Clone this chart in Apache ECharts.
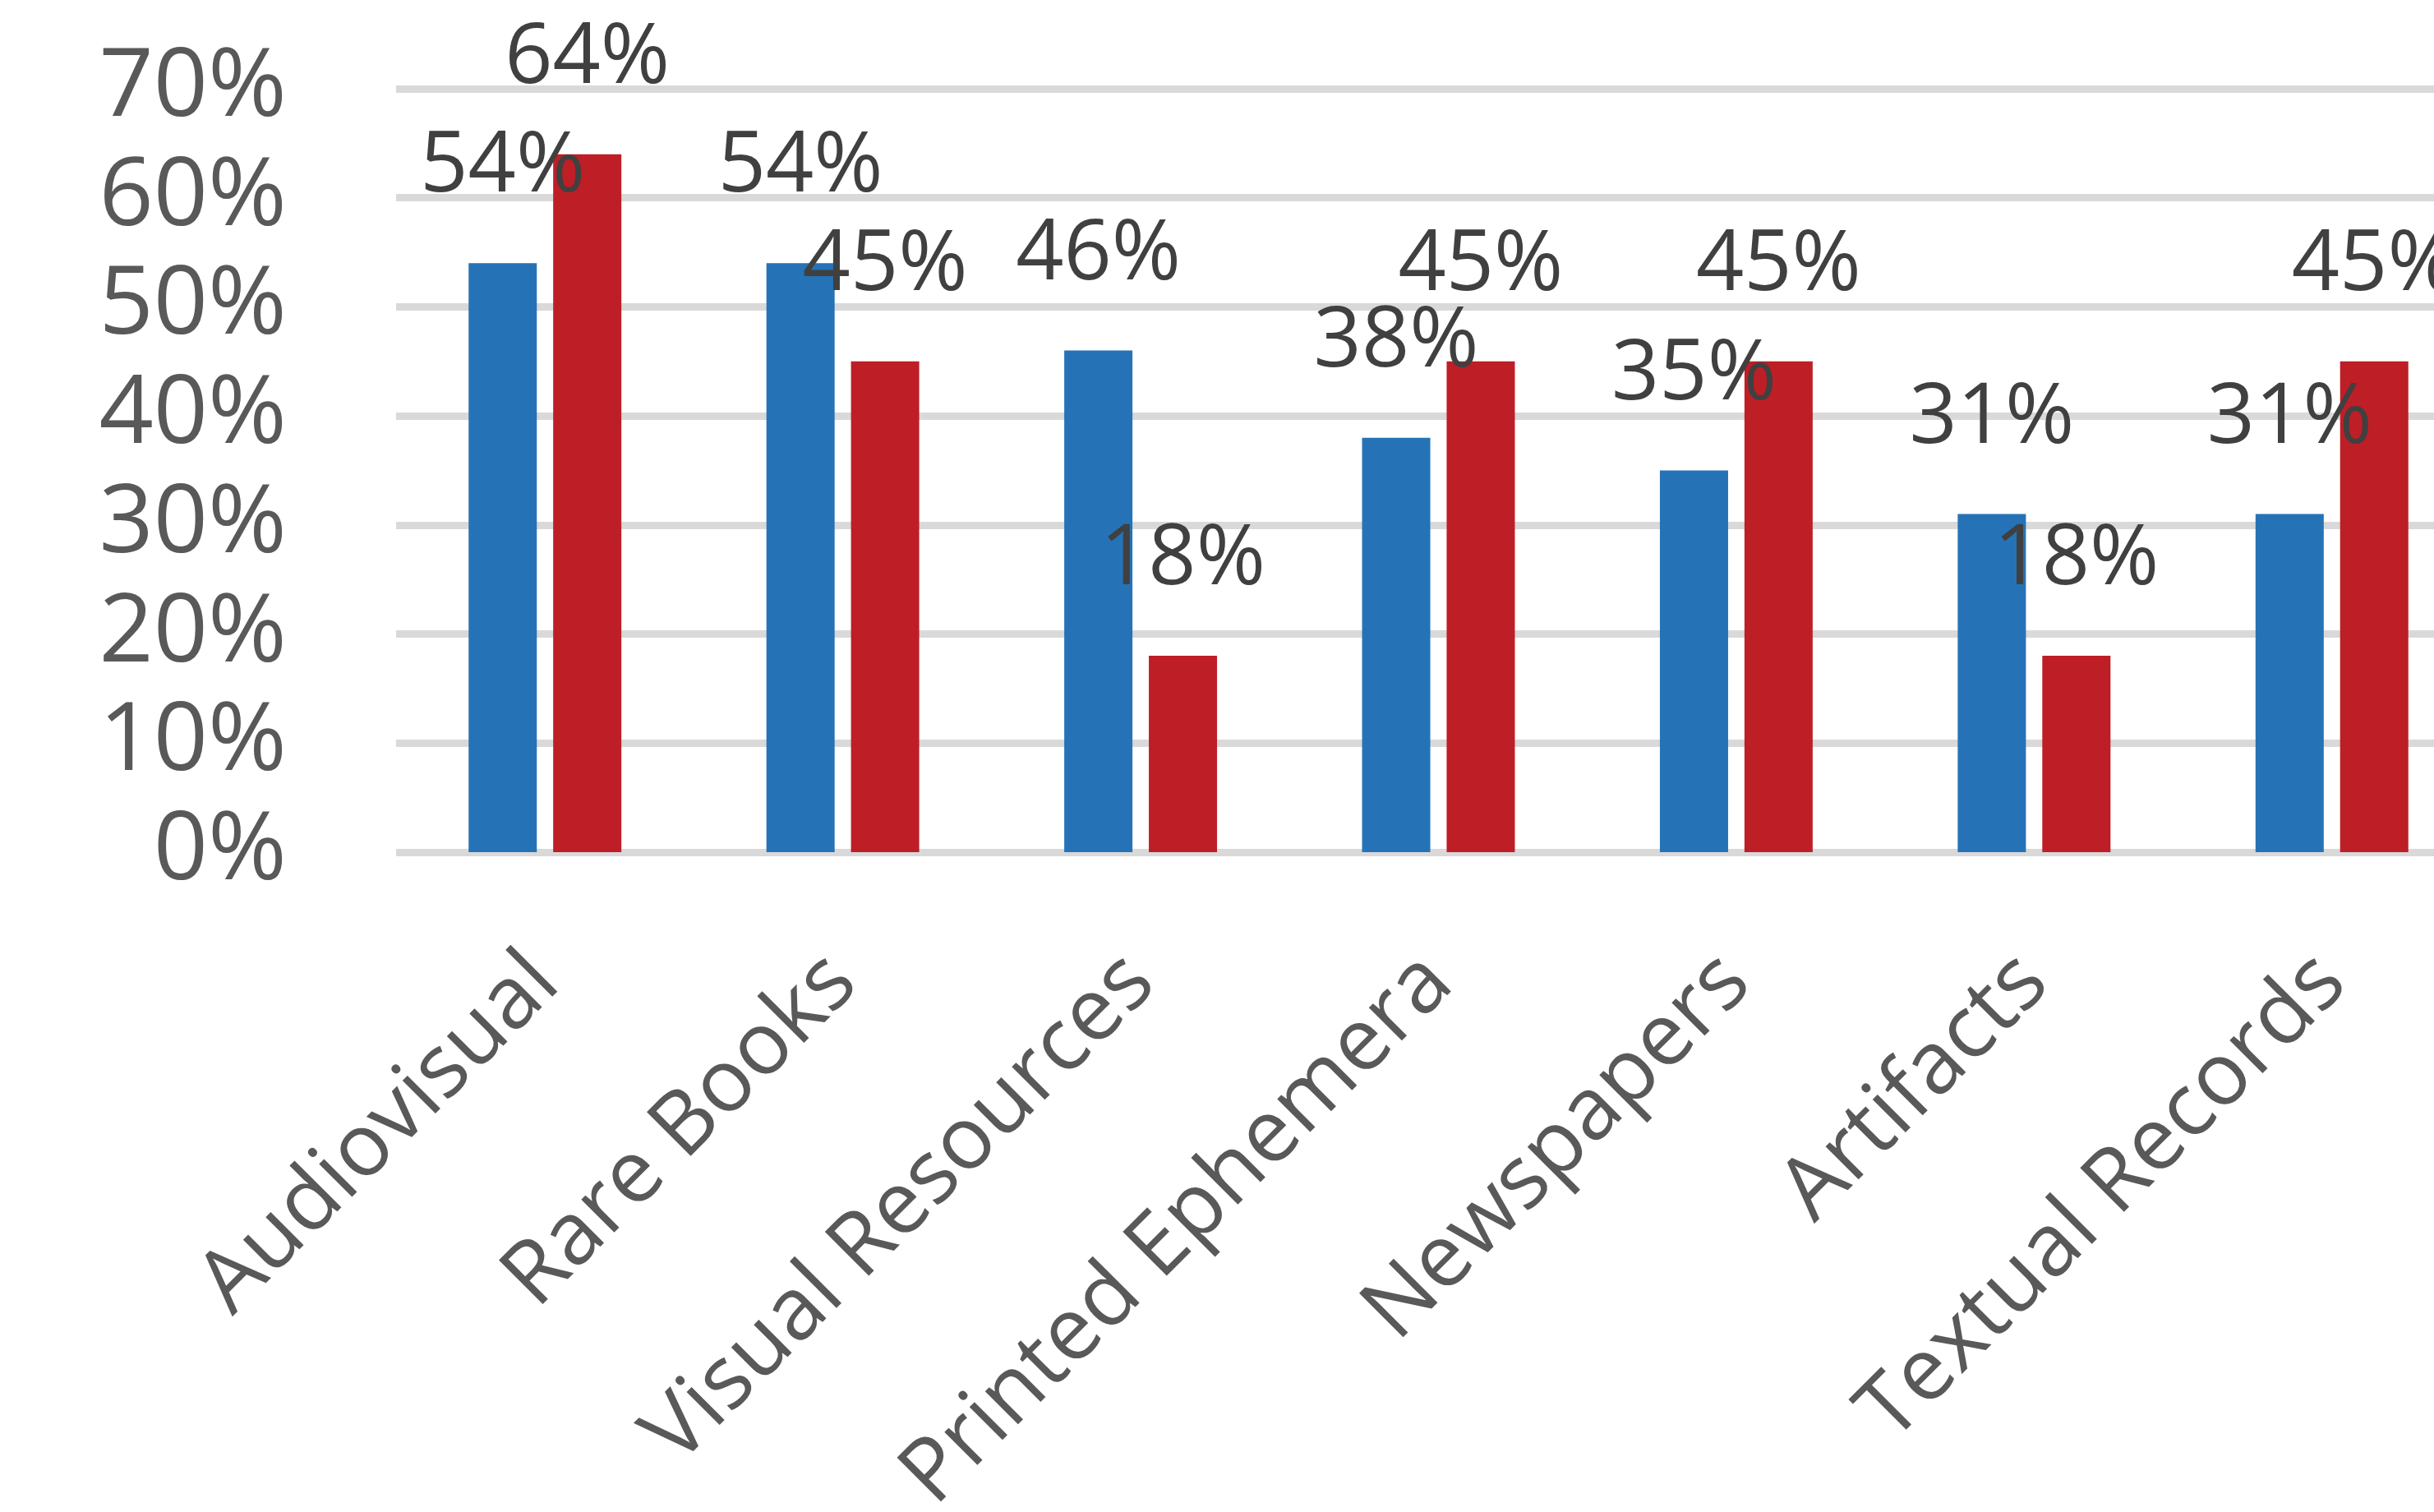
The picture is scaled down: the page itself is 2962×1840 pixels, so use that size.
<!DOCTYPE html>
<html>
<head>
<meta charset="utf-8">
<style>
  html, body { margin: 0; padding: 0; background: #ffffff; }
  #chart { width: 2962px; height: 1840px; }
</style>
<script src="https://cdn.jsdelivr.net/npm/echarts@6/dist/echarts.min.js"></script>
</head>
<body>
<div id="chart"></div>
<script>
const categories = ['Audiovisual', 'Rare Books', 'Visual Resources', 'Printed Ephemera', 'Newspapers', 'Artifacts', 'Textual Records'];
const blueValues = [54, 54, 46, 38, 35, 31, 31];
const redValues = [64, 45, 18, 45, 45, 18, 45];
const yTicks = [0, 10, 20, 30, 40, 50, 60, 70];

const chart = echarts.init(document.getElementById('chart'), null, { renderer: 'canvas' });

const FONT = '"Open Sans", "Noto Sans", sans-serif';

const dataLabel = {
  show: true,
  position: ['50%', -116],
  align: 'center',
  verticalAlign: 'middle',
  formatter: '{c}%',
  color: '#404040',
  fontFamily: FONT,
  fontSize: 102
};

chart.setOption({
  animation: false,
  backgroundColor: '#ffffff',
  grid: {
    left: 482, right: -57, top: 108, bottom: 803,
    containLabel: false,
    outerBoundsMode: 'none'
  },
  xAxis: {
    type: 'category',
    data: categories,
    axisLine: { show: false },
    axisTick: { show: false },
    axisLabel: {
      rotate: 45,
      margin: 142,
      interval: 0,
      color: '#595959',
      fontFamily: FONT,
      fontSize: 106
    }
  },
  yAxis: {
    type: 'value',
    min: yTicks[0],
    max: yTicks[yTicks.length - 1],
    interval: 10,
    axisLine: { show: false },
    axisTick: { show: false },
    axisLabel: {
      margin: 133,
      formatter: '{value}%',
      color: '#595959',
      fontFamily: FONT,
      fontSize: 116,
      padding: [34, 0, 0, 0]
    },
    splitLine: { show: true, lineStyle: { color: '#D9D9D9', width: 9 } }
  },
  series: [
    {
      name: 'Series 1',
      type: 'bar',
      data: blueValues,
      barWidth: 83,
      barGap: '24%',
      itemStyle: { color: '#2573B6' },
      label: dataLabel
    },
    {
      name: 'Series 2',
      type: 'bar',
      data: redValues,
      barWidth: 83,
      barGap: '24%',
      itemStyle: { color: '#BE1E26' },
      label: dataLabel
    }
  ]
});
</script>
</body>
</html>
